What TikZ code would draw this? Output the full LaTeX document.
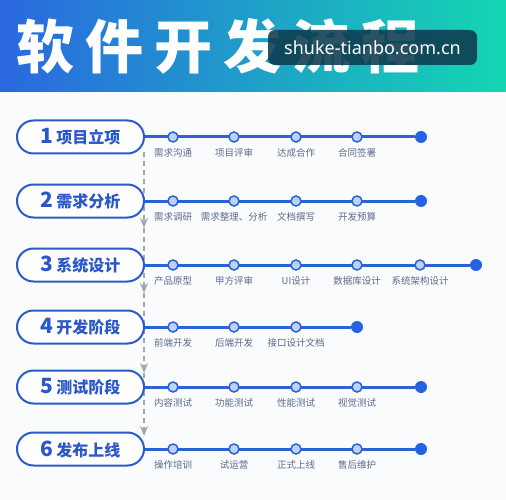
\documentclass[tikz,border=0pt]{standalone}
\usepackage{fontspec}
\setmainfont{Noto Sans}
\newfontfamily\cjk{Noto Sans CJK SC}
\usetikzlibrary{arrows.meta,positioning}

\definecolor{bandleft}{HTML}{2A68E0}
\definecolor{bandright}{HTML}{14D6B2}
\definecolor{pageback}{HTML}{FAFBFD}
\definecolor{pillblue}{HTML}{2A5CC8}
\definecolor{textblue}{HTML}{2A58C8}
\definecolor{trackblue}{HTML}{2C62D4}
\definecolor{dotfill}{HTML}{BCD2F7}
\definecolor{enddot}{HTML}{2363E3}
\definecolor{lblgray}{HTML}{5B6B8C}
\definecolor{flowgray}{HTML}{A3A7AF}
\definecolor{markbox}{HTML}{0E3A4F}

\tikzset{
  pill/.style={draw=pillblue, line width=2pt, fill=white, rounded corners=16.5pt,
    minimum width=127pt, minimum height=33pt, inner sep=0pt, text=textblue,
    font=\cjk\bfseries\fontsize{16}{16}\selectfont},
  track/.style={draw=trackblue, line width=3pt},
  stop/.style={circle, draw=trackblue, line width=1.5pt, fill=dotfill,
    minimum size=10pt, inner sep=0pt},
  last/.style={circle, fill=enddot, minimum size=12pt, inner sep=0pt},
  lbl/.style={text=lblgray, inner sep=0pt, font=\cjk\fontsize{9.5}{9.5}\selectfont},
  flow/.style={draw=flowgray, line width=1.2pt, dash pattern=on 5pt off 4pt,
    -{Stealth[length=10pt,width=8pt,inset=3pt]}},
}
\newcommand{\num}[1]{{\fontsize{21}{21}\selectfont #1}\hspace{3pt}}

\begin{document}
\begin{tikzpicture}[x=1pt,y=-1pt]

	\useasboundingbox (0,0) rectangle (506,500);
	\fill[pageback] (0,0) rectangle (506,500);
	\shade[left color=bandleft, right color=bandright] (0,0) rectangle (506,92);

	\node (title)[anchor=base west, inner sep=0pt, text=white,
	  font=\cjk\bfseries\fontsize{58}{58}\selectfont\addfontfeature{LetterSpace=19}]
	  at (16,69) {软件开发流程};
	\node (mark)[fill=markbox, fill opacity=0.88, text opacity=1, text=white, rounded corners=7pt,
	  minimum width=209pt, minimum height=35pt, inner sep=0pt, font=\fontsize{18}{18}\selectfont]
	  at (372.5,47.5) {shuke-tianbo.com.cn};

	% dashed guide behind the pills
	\coordinate (a0) at (144,152);
	\coordinate (a1) at (144,228);
	\coordinate (a2) at (144,293);
	\coordinate (a3) at (144,373);
	\coordinate (a4) at (144,436);
	\draw [flow] (a0) to (a1);
	\draw [flow] (a1) to (a2);
	\draw [flow] (a2) to (a3);
	\draw [flow] (a3) to (a4);

	\node (p1)[pill] at (80.5,137) {\num{1}项目立项};
	\node (p2)[pill] at (80.5,201) {\num{2}需求分析};
	\node (p3)[pill] at (80.5,265) {\num{3}系统设计};
	\node (p4)[pill] at (80.5,327) {\num{4}开发阶段};
	\node (p5)[pill] at (80.5,387) {\num{5}测试阶段};
	\node (p6)[pill] at (80.5,449) {\num{6}发布上线};

	\node (e1)[last] at (421,137) {};
	\node (e2)[last] at (421,201) {};
	\node (e3)[last] at (476,265) {};
	\node (e4)[last] at (357,327) {};
	\node (e5)[last] at (421,387) {};
	\node (e6)[last] at (421,449) {};

	\draw [track] (p1) to (e1);
	\draw [track] (p2) to (e2);
	\draw [track] (p3) to (e3);
	\draw [track] (p4) to (e4);
	\draw [track] (p5) to (e5);
	\draw [track] (p6) to (e6);

	% row 1
	\node (s11)[stop] at (173,137) {};
	\node (s12)[stop] at (234,137) {};
	\node (s13)[stop] at (296,137) {};
	\node (s14)[stop] at (357,137) {};
	\node (l11)[lbl] at (173,153) {需求沟通};
	\node (l12)[lbl] at (234,153) {项目评审};
	\node (l13)[lbl] at (296,153) {达成合作};
	\node (l14)[lbl] at (357,153) {合同签署};

	% row 2
	\node (s21)[stop] at (173,201) {};
	\node (s22)[stop] at (234,201) {};
	\node (s23)[stop] at (296,201) {};
	\node (s24)[stop] at (357,201) {};
	\node (l21)[lbl] at (173,217) {需求调研};
	\node (l22)[lbl] at (234,217) {需求整理、分析};
	\node (l23)[lbl] at (296,217) {文档撰写};
	\node (l24)[lbl] at (357,217) {开发预算};

	% row 3
	\node (s31)[stop] at (173,265) {};
	\node (s32)[stop] at (234,265) {};
	\node (s33)[stop] at (296,265) {};
	\node (s34)[stop] at (357,265) {};
	\node (s35)[stop] at (420,265) {};
	\node (l31)[lbl] at (173,281) {产品原型};
	\node (l32)[lbl] at (234,281) {甲方评审};
	\node (l33)[lbl] at (296,281) {UI设计};
	\node (l34)[lbl] at (357,281) {数据库设计};
	\node (l35)[lbl] at (420,281) {系统架构设计};

	% row 4
	\node (s41)[stop] at (173,327) {};
	\node (s42)[stop] at (234,327) {};
	\node (s43)[stop] at (296,327) {};
	\node (l41)[lbl] at (173,343) {前端开发};
	\node (l42)[lbl] at (234,343) {后端开发};
	\node (l43)[lbl] at (296,343) {接口设计文档};

	% row 5
	\node (s51)[stop] at (173,387) {};
	\node (s52)[stop] at (234,387) {};
	\node (s53)[stop] at (296,387) {};
	\node (s54)[stop] at (357,387) {};
	\node (l51)[lbl] at (173,403) {内容测试};
	\node (l52)[lbl] at (234,403) {功能测试};
	\node (l53)[lbl] at (296,403) {性能测试};
	\node (l54)[lbl] at (357,403) {视觉测试};

	% row 6
	\node (s61)[stop] at (173,449) {};
	\node (s62)[stop] at (234,449) {};
	\node (s63)[stop] at (296,449) {};
	\node (s64)[stop] at (357,449) {};
	\node (l61)[lbl] at (173,465) {操作培训};
	\node (l62)[lbl] at (234,465) {试运营};
	\node (l63)[lbl] at (296,465) {正式上线};
	\node (l64)[lbl] at (357,465) {售后维护};

\end{tikzpicture}
\end{document}
